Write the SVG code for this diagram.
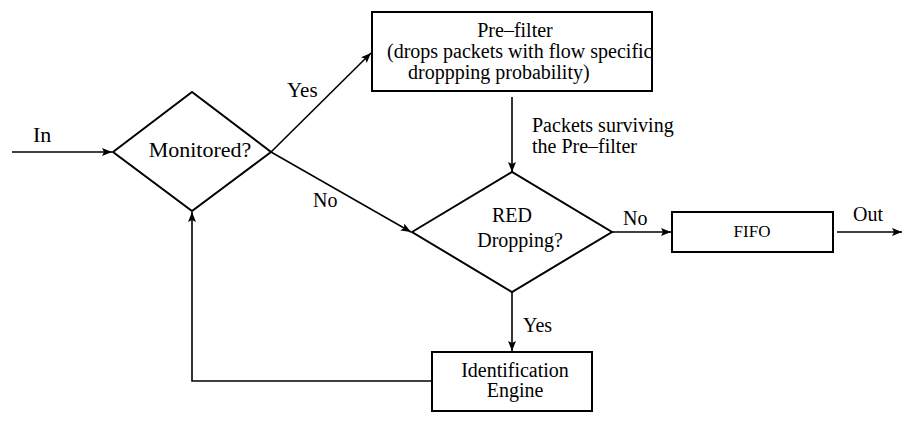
<svg xmlns="http://www.w3.org/2000/svg" width="914" height="424" viewBox="0 0 914 424">
  <style>
    .shape { fill: #fff; stroke: #000; stroke-width: 2; }
    .frame { fill: none; stroke: #000; stroke-width: 2; }
    .edge { fill: none; stroke: #000; stroke-width: 1.6; }
    text { font-family: "Liberation Serif", "Times New Roman", serif; font-size: 20px; fill: #000; }
    .mid { text-anchor: middle; }
  </style>
  <defs>
    <marker id="arrow" viewBox="0 0 10 8" refX="10" refY="4" markerWidth="10" markerHeight="8" markerUnits="userSpaceOnUse" orient="auto">
      <path d="M0,0 L10,4 L0,8 L2,4 Z" fill="#000"/>
    </marker>
  </defs>

  <rect width="914" height="424" fill="#fff"/>

  <!-- connectors -->
  <g id="connectors">
    <line class="edge" x1="12" y1="152" x2="112" y2="152" marker-end="url(#arrow)"/>
    <line class="edge" x1="271" y1="152" x2="371" y2="53" marker-end="url(#arrow)"/>
    <line class="edge" x1="271" y1="152" x2="411" y2="232" marker-end="url(#arrow)"/>
    <line class="edge" x1="512" y1="97" x2="512" y2="172" marker-end="url(#arrow)"/>
    <line class="edge" x1="612" y1="232" x2="671" y2="232" marker-end="url(#arrow)"/>
    <line class="edge" x1="837" y1="232" x2="902" y2="232" marker-end="url(#arrow)"/>
    <line class="edge" x1="512" y1="292" x2="512" y2="351" marker-end="url(#arrow)"/>
    <polyline class="edge" points="432,381 192,381 192,212" marker-end="url(#arrow)"/>
    <text x="33" y="142" style="font-size:22px">In</text>
    <text x="287" y="97" style="font-size:21px">Yes</text>
    <text x="313" y="207">No</text>
    <text x="532" y="132">Packets surviving</text>
    <text x="532" y="153">the Pre–filter</text>
    <text x="623" y="225">No</text>
    <text x="853" y="221">Out</text>
    <text x="523" y="332">Yes</text>
  </g>

  <!-- decision: monitored flow -->
  <g id="monitored">
    <polygon class="shape" points="113,152 192,92 271,152 192,211"/>
    <text class="mid" x="200" y="157" style="font-size:22px">Monitored?</text>
  </g>

  <!-- pre-filter stage: border drawn over the text, which runs into the right edge -->
  <g id="prefilter">
    <rect x="372" y="12" width="280" height="79" fill="#fff"/>
    <text class="mid" x="515" y="37">Pre–filter</text>
    <text x="387" y="58">(drops packets with flow specific</text>
    <text x="408" y="79">droppping probability)</text>
    <rect class="frame" x="372" y="12" width="280" height="79"/>
  </g>

  <!-- decision: RED dropping -->
  <g id="red">
    <polygon class="shape" points="412,232 512,172 612,232 512,292"/>
    <text class="mid" x="512" y="222">RED</text>
    <text class="mid" x="520" y="247">Dropping?</text>
  </g>

  <!-- output queue -->
  <g id="fifo">
    <rect class="shape" x="672" y="212" width="161" height="40"/>
    <text class="mid" x="752" y="237" style="font-size:17px">FIFO</text>
  </g>

  <!-- identification engine -->
  <g id="identification">
    <rect class="shape" x="432" y="352" width="160" height="59"/>
    <text class="mid" x="515" y="377">Identification</text>
    <text class="mid" x="515" y="397">Engine</text>
  </g>
</svg>
